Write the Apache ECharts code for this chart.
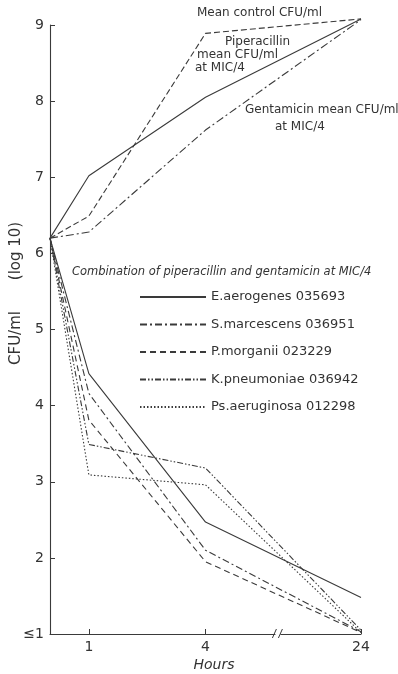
<!DOCTYPE html>
<html><head><meta charset="utf-8">
<script src="https://cdn.jsdelivr.net/npm/echarts@6/dist/echarts.min.js"></script>
<style>html,body{margin:0;padding:0;background:#fff}#c{width:398px;height:674px}</style>
</head><body><div id="c"></div>
<script>
// ---- data ----
const hours = [0, 1, 4, 24];
const xTickHours = [1, 4, 24];
const yTickValues = [1, 2, 3, 4, 5, 6, 7, 8, 9];
const yTickLabels = ['\u22641', '2', '3', '4', '5', '6', '7', '8', '9'];

const controlCFU      = [6.2, 6.49, 8.89, 9.08];
const piperacillinCFU = [6.2, 7.02, 8.05, 9.08];
const gentamicinCFU   = [6.2, 6.28, 7.62, 9.07];

const strainNames = ['E.aerogenes 035693', 'S.marcescens 036951', 'P.morganii 023229', 'K.pneumoniae 036942', 'Ps.aeruginosa 012298'];
const eAerogenesCFU   = [6.2, 4.42, 2.47, 1.48];
const sMarcescensCFU  = [6.2, 4.16, 2.10, 1.03];
const pMorganiiCFU    = [6.2, 3.81, 1.95, 1.02];
const kPneumoniaeCFU  = [6.2, 3.49, 3.18, 1.05];
const psAeruginosaCFU = [6.2, 3.09, 2.96, 1.02];

// ---- broken time axis: 0..4 h linear, 24 h placed after the break ----
const BREAK_AFTER = 4, BREAK_POS = 8;
function axisPos(h) { return h <= BREAK_AFTER ? h : BREAK_POS; }
function axisToHour(v) { return v <= BREAK_AFTER ? v : 24; }
function pts(vals) { return hours.map((h, i) => [axisPos(h), vals[i]]); }

const INK = '#3a3a3a';
const TXT = '#333';
const FONT = '"DejaVu Sans", sans-serif';

function mk(name, vals, type) {
  return {
    name: name, type: 'line', data: pts(vals), symbol: 'none', clip: false,
    lineStyle: { color: INK, width: 1.1, type: type },
    itemStyle: { color: INK }, emphasis: { disabled: true }, silent: true
  };
}

const chart = echarts.init(document.getElementById('c'), null, { renderer: 'canvas' });
const option = {
  animation: false,
  backgroundColor: '#fff',
  grid: { left: 50, right: 37, top: 25, bottom: 40 },
  xAxis: {
    type: 'value', min: 0, max: BREAK_POS,
    splitLine: { show: false },
    axisLine: { lineStyle: { color: INK, width: 1.1 } },
    axisTick: { inside: true, length: 5, lineStyle: { color: INK }, customValues: xTickHours.map(axisPos) },
    axisLabel: { customValues: xTickHours.map(axisPos), color: TXT, fontFamily: FONT, fontSize: 14, margin: 6,
      formatter: v => String(axisToHour(v)) }
  },
  yAxis: {
    type: 'value', min: 1, max: 9, interval: 1,
    splitLine: { show: false },
    axisLine: { show: true, lineStyle: { color: INK, width: 1.1 } },
    axisTick: { show: true, inside: true, length: 5, lineStyle: { color: INK } },
    axisLabel: { color: TXT, fontFamily: FONT, fontSize: 14, margin: 6,
      formatter: v => yTickLabels[yTickValues.indexOf(v)] }
  },
  legend: {
    data: strainNames, orient: 'vertical', left: 139, top: 290, padding: 0,
    itemWidth: 66, itemHeight: 14, itemGap: 13.5,
    itemStyle: { opacity: 0 },
    textStyle: { color: TXT, fontFamily: FONT, fontSize: 13, lineHeight: 14 },
    selectedMode: false
  },
  series: [
    mk('Mean control CFU/ml', controlCFU, [6, 3]),
    mk('Piperacillin mean CFU/ml at MIC/4', piperacillinCFU, 'solid'),
    mk('Gentamicin mean CFU/ml at MIC/4', gentamicinCFU, [8, 3, 2, 3]),
    mk(strainNames[0], eAerogenesCFU, 'solid'),
    mk(strainNames[1], sMarcescensCFU, [7, 3, 2, 3]),
    mk(strainNames[2], pMorganiiCFU, [6, 4]),
    mk(strainNames[3], kPneumoniaeCFU, [6, 2, 1.5, 2, 1.5, 2]),
    mk(strainNames[4], psAeruginosaCFU, [1.5, 2])
  ]
};
chart.setOption(option);

function txt(s, x, y, size, extra) {
  return Object.assign({ type: 'text', x: x, y: y, silent: true,
    style: Object.assign({ text: s, fill: TXT, font: size + 'px ' + FONT, verticalAlign: 'middle', align: 'left' }, extra || {}) });
}
// axis break marks
const bp = chart.convertToPixel({ gridIndex: 0 }, [5.85, 1]);
const graphics = [
  { type: 'rect', shape: { x: bp[0] - 2, y: bp[1] - 2, width: 5, height: 4 }, style: { fill: '#fff' }, silent: true, z: 100 },
  { type: 'line', shape: { x1: bp[0] - 5, y1: bp[1] + 4, x2: bp[0] - 1, y2: bp[1] - 5 }, style: { stroke: INK, lineWidth: 1 }, silent: true, z: 101 },
  { type: 'line', shape: { x1: bp[0] + 1, y1: bp[1] + 4, x2: bp[0] + 5, y2: bp[1] - 5 }, style: { stroke: INK, lineWidth: 1 }, silent: true, z: 101 },
  txt('Mean control CFU/ml', 197, 13, 12),
  txt('Piperacillin', 225, 42, 12),
  txt('mean CFU/ml', 197, 55, 12),
  txt('at MIC/4', 195, 68, 12),
  txt('Gentamicin mean CFU/ml', 245, 110, 12),
  txt('at MIC/4', 275, 127, 12),
  txt('Combination of piperacillin and gentamicin at MIC/4', 72, 272, 11.5, { font: 'italic 11.5px ' + FONT }),
  txt('Hours', 214, 665, 14, { align: 'center', font: 'italic 14px ' + FONT }),
  Object.assign(txt('(log 10)', 16, 251, 15, { align: 'center' }), { rotation: Math.PI / 2 }),
  Object.assign(txt('CFU/ml', 16, 338, 15, { align: 'center' }), { rotation: Math.PI / 2 })
];
chart.setOption({ graphic: graphics });
</script></body></html>
